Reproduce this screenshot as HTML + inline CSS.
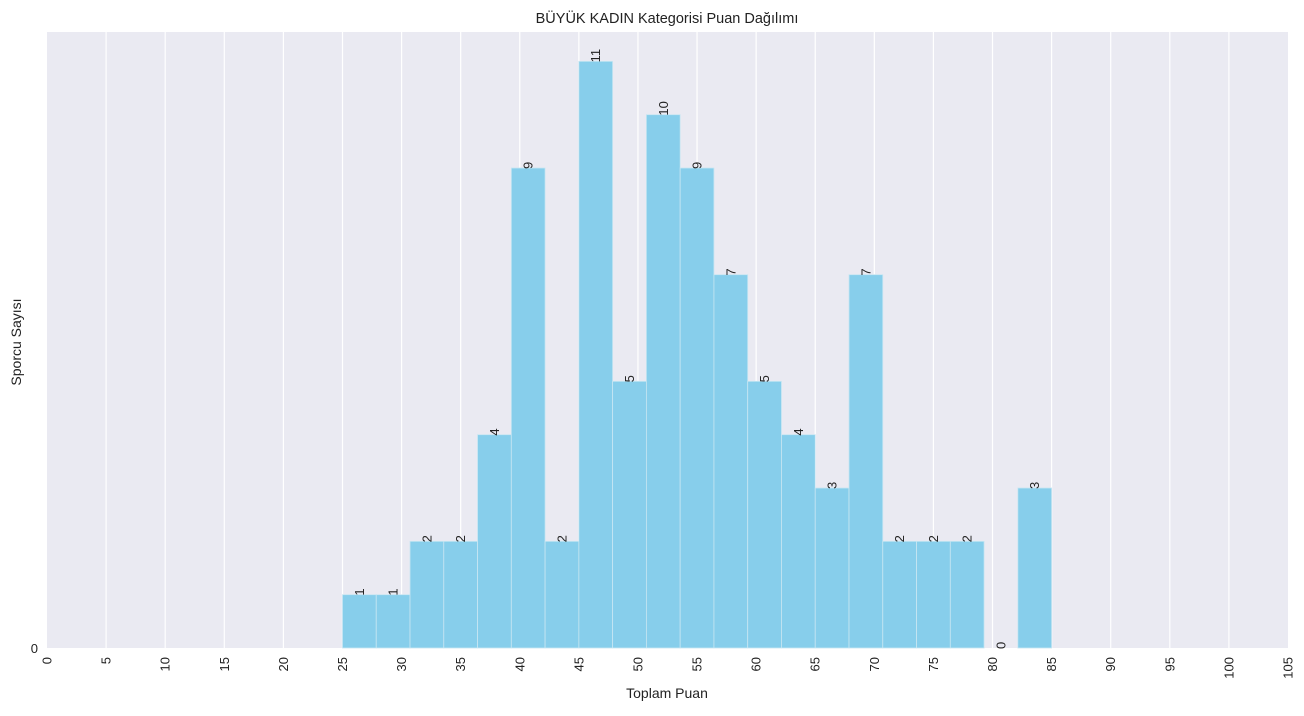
<!DOCTYPE html>
<html><head><meta charset="utf-8"><style>
body{margin:0;background:#fff;font-family:"Liberation Sans",Arial,sans-serif}
</style></head><body>
<svg id="c" width="1304" height="711" xmlns="http://www.w3.org/2000/svg" font-family="Liberation Sans, Arial, sans-serif">
<rect x="47" y="32" width="1241" height="616" fill="#eaeaf2"/>
<g id="grid"></g><g id="bars"></g><g id="labels"></g><g id="xt"></g>
<text x="667" y="23" text-anchor="middle" font-size="14.5" fill="#222">BÜYÜK KADIN Kategorisi Puan Dağılımı</text>
<text x="667" y="698" text-anchor="middle" font-size="14" fill="#222">Toplam Puan</text>
<text transform="translate(21,342) rotate(-90)" text-anchor="middle" font-size="14" fill="#222">Sporcu Sayısı</text>
<text x="38" y="653" text-anchor="end" font-size="13" fill="#222">0</text>
</svg>
<script>
const counts=[1,1,2,2,4,9,2,11,5,10,9,7,5,4,3,7,2,2,2,0,3];
const binStart=25, binEnd=85;
const xTicks=[0,5,10,15,20,25,30,35,40,45,50,55,60,65,70,75,80,85,90,95,100,105];
const X0=47,X1=1288,Y0=648,Y1=32,xmax=105,ymax=11.55;
const sx=v=>X0+(v/xmax)*(X1-X0), sy=v=>Y0-(v/ymax)*(Y0-Y1);
const NS="http://www.w3.org/2000/svg";
function mk(t,a,p){const e=document.createElementNS(NS,t);for(const k in a)e.setAttribute(k,a[k]);document.getElementById(p).appendChild(e);return e;}
xTicks.forEach(t=>{
 if(t>0&&t<105){const l=mk('line',{x1:sx(t),x2:sx(t),y1:Y1,y2:Y0,stroke:'#fff','stroke-width':1.2},'grid');
 
 }
 const tx=mk('text',{transform:`translate(${sx(t)+4.5},657) rotate(-90)`,'text-anchor':'end','font-size':13,fill:'#222'},'xt');
 tx.textContent=t;
 
 
});
const w=(binEnd-binStart)/counts.length;
counts.forEach((c,i)=>{
 const a=binStart+i*w,b=a+w;
 const r=mk('rect',{x:sx(a),y:sy(c),width:sx(b)-sx(a),height:Y0-sy(c),fill:'#87ceeb',stroke:'#c8e6f2','stroke-width':0.8},'bars');
 
 
 const cx=(sx(a)+sx(b))/2;
 const t=mk('text',{transform:`translate(${cx},${sy(c)+1}) rotate(-90)`,'text-anchor':'start','dominant-baseline':'central','font-size':13,fill:'#222'},'labels');
 t.textContent=c;
 
 
});
</script>
</body></html>
